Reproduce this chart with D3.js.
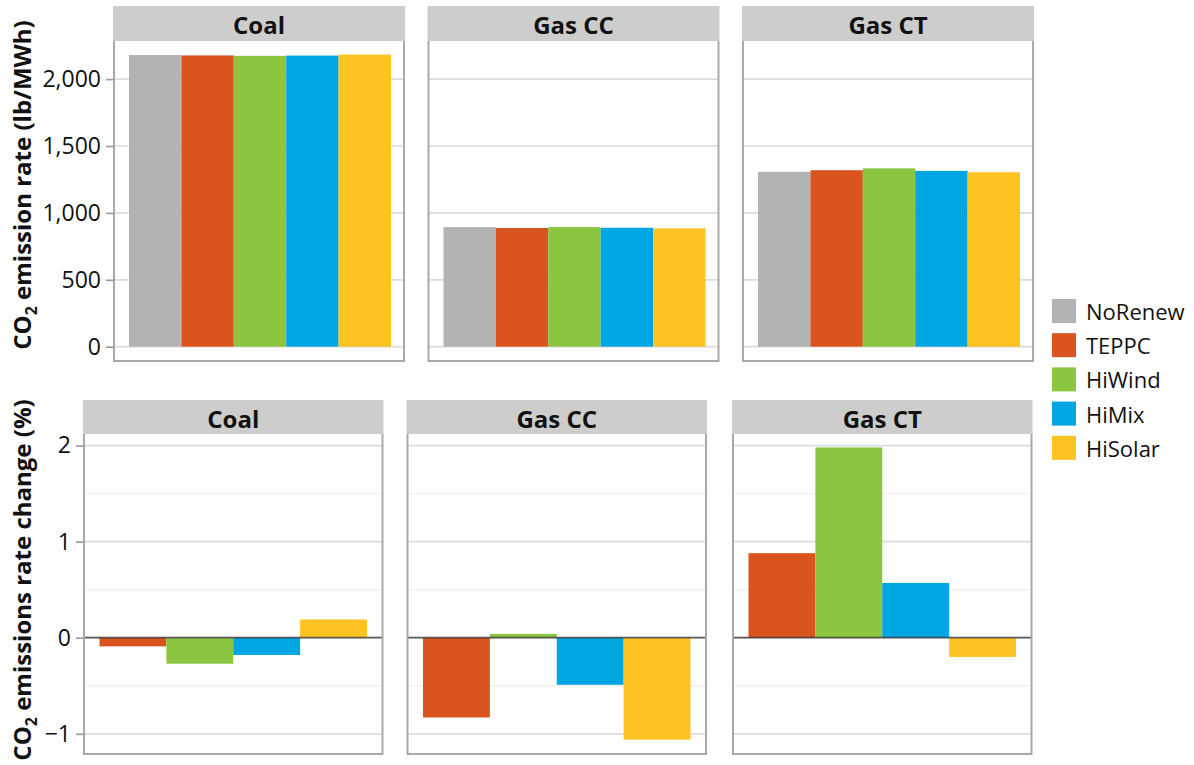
<!DOCTYPE html>
<html>
<head>
<meta charset="utf-8">
<script src="https://cdn.jsdelivr.net/npm/d3@7"></script>
<style>
  html, body { margin: 0; padding: 0; background: #fff; }
  svg { display: block; font-family: "Open Sans", "Noto Sans", sans-serif; }
</style>
</head>
<body>
<svg id="chart" width="1194" height="765"></svg>
<script>
// Scenarios and plant types
const scenarios = ["NoRenew", "TEPPC", "HiWind", "HiMix", "HiSolar"];
const scenarioColors = ["#b3b3b3", "#d9541e", "#8cc540", "#00a6e1", "#fdc322"];
const plants = ["Coal", "Gas CC", "Gas CT"];

// CO2 emission rate (lb/MWh), one value per scenario
const coalRate  = [2180, 2177, 2174, 2176, 2184];
const gasCCRate = [894, 887, 894, 889, 884];
const gasCTRate = [1307, 1319, 1333, 1314, 1304];

// Change in emission rate (%) vs. NoRenew, for TEPPC, HiWind, HiMix, HiSolar
const changeScenarios = ["TEPPC", "HiWind", "HiMix", "HiSolar"];
const coalChange  = [-0.09, -0.27, -0.18, 0.19];
const gasCCChange = [-0.83, 0.04, -0.49, -1.06];
const gasCTChange = [0.88, 1.98, 0.57, -0.20];

const rateTicks = [0, 500, 1000, 1500, 2000];
const changeTicks = [-1, 0, 1, 2];
const changeMinorTicks = [-0.5, 0.5, 1.5];

const svg = d3.select("#chart");
const color = d3.scaleOrdinal().domain(scenarios).range(scenarioColors);

const STRIP_FILL = "#cdcdcb";
const BORDER = "#a9a9a9";
const GRID = "#dcdcdc";

function drawRow(cfg) {
  const y = d3.scaleLinear().domain(cfg.domain).range([cfg.plotBottom, cfg.plotTop]);

  cfg.panelX.forEach((x0, i) => {
    const g = svg.append("g");
    const x = d3.scaleBand().domain(cfg.keys)
      .range([x0 + cfg.padL, x0 + cfg.width - cfg.padR]).padding(0);

    // minor gridlines
    g.selectAll("line.minor").data(cfg.minorTicks).join("line")
      .attr("x1", x0).attr("x2", x0 + cfg.width)
      .attr("y1", d => y(d)).attr("y2", d => y(d))
      .attr("stroke", "#f2f2f2").attr("stroke-width", 1.5);

    // major gridlines
    g.selectAll("line.major").data(cfg.ticks).join("line")
      .attr("x1", x0).attr("x2", x0 + cfg.width)
      .attr("y1", d => y(d)).attr("y2", d => y(d))
      .attr("stroke", GRID).attr("stroke-width", 1.7);

    // bars
    const vals = cfg.values[i];
    g.selectAll("rect.bar").data(cfg.keys.map((k, j) => ({ k, v: vals[j] }))).join("rect")
      .attr("x", d => x(d.k))
      .attr("width", x.bandwidth())
      .attr("y", d => y(Math.max(0, d.v)))
      .attr("height", d => Math.abs(y(d.v) - y(0)))
      .attr("fill", d => color(d.k));

    // zero reference line drawn over the bars
    if (cfg.zeroLine) {
      g.append("line")
        .attr("x1", x0).attr("x2", x0 + cfg.width)
        .attr("y1", y(0)).attr("y2", y(0))
        .attr("stroke", "#333").attr("stroke-opacity", 0.75).attr("stroke-width", 1.8);
    }

    // panel border (left, right, bottom)
    g.append("path")
      .attr("d", `M${x0},${cfg.stripBottom} V${cfg.plotBottom} H${x0 + cfg.width} V${cfg.stripBottom}`)
      .attr("fill", "none").attr("stroke", BORDER).attr("stroke-width", 2);

    // facet strip
    g.append("rect")
      .attr("x", x0 - 1).attr("y", cfg.stripTop)
      .attr("width", cfg.width + 2).attr("height", cfg.stripBottom - cfg.stripTop)
      .attr("fill", STRIP_FILL);
    g.append("text")
      .attr("x", x0 + cfg.width / 2)
      .attr("y", (cfg.stripTop + cfg.stripBottom) / 2 + 1)
      .attr("text-anchor", "middle").attr("dominant-baseline", "central")
      .attr("font-size", 24).attr("font-weight", 700).attr("fill", "#111")
      .text(plants[i]);
  });

  // shared y axis on the leftmost panel
  const axis = d3.axisLeft(y).tickValues(cfg.ticks).tickFormat(cfg.format)
    .tickSize(8).tickPadding(5);
  const ag = svg.append("g").attr("transform", `translate(${cfg.panelX[0]},0)`).call(axis);
  ag.select(".domain").remove();
  ag.selectAll(".tick line").attr("stroke", "#999").attr("stroke-width", 1.6);
  ag.selectAll(".tick text").attr("font-size", 23).attr("fill", "#111")
    .attr("font-family", "\"Open Sans\", sans-serif");

  // y-axis title with subscript
  const t = svg.append("text")
    .attr("transform", `translate(${cfg.titleX},${cfg.titleY}) rotate(-90)`)
    .attr("text-anchor", "middle")
    .attr("font-size", 24).attr("font-weight", 700).attr("fill", "#111");
  t.append("tspan").text("CO");
  t.append("tspan").attr("font-size", 16).attr("dy", 6).text("2");
  t.append("tspan").attr("dy", -6).text(cfg.title);
}

// top row: emission rates
drawRow({
  keys: scenarios,
  values: [coalRate, gasCCRate, gasCTRate],
  panelX: [114, 428.5, 743],
  width: 290,
  padL: 15, padR: 13,
  stripTop: 6, stripBottom: 41,
  plotTop: 41, plotBottom: 361,
  domain: [-107, 2285],
  ticks: rateTicks,
  minorTicks: [],
  format: d3.format(","),
  zeroLine: false,
  title: " emission rate (lb/MWh)",
  titleX: 31, titleY: 185
});

// bottom row: percent change
drawRow({
  keys: changeScenarios,
  values: [coalChange, gasCCChange, gasCTChange],
  panelX: [84, 407.5, 733],
  width: 298.5,
  padL: 15.5, padR: 15.5,
  stripTop: 400, stripBottom: 434,
  plotTop: 434, plotBottom: 754,
  domain: [-1.21, 2.12],
  ticks: changeTicks,
  minorTicks: changeMinorTicks,
  format: d3.format("d"),
  zeroLine: true,
  title: " emissions rate change (%)",
  titleX: 31, titleY: 580
});

// legend
const legend = svg.append("g").attr("transform", "translate(1052,299)");
const items = legend.selectAll("g").data(scenarios).join("g")
  .attr("transform", (d, i) => `translate(0,${i * 34.2})`);
items.append("rect").attr("width", 24).attr("height", 24).attr("fill", d => color(d));
items.append("text").attr("x", 34).attr("y", 12).attr("dominant-baseline", "central")
  .attr("font-size", 22).attr("fill", "#111").text(d => d);
</script>
</body>
</html>
